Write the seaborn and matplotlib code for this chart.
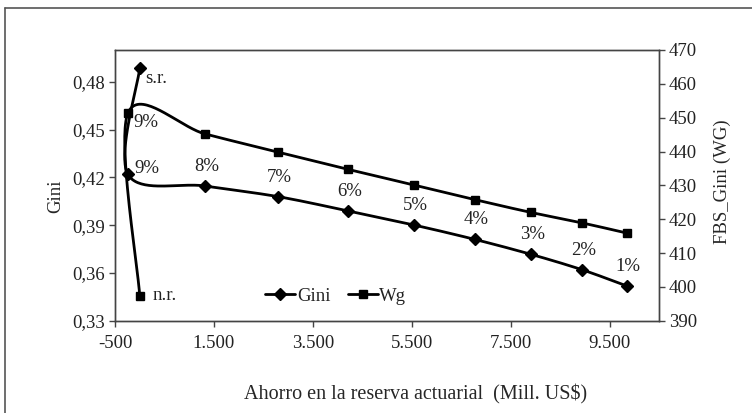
import numpy as np
import pandas as pd
import matplotlib
matplotlib.use("Agg")
import matplotlib.pyplot as plt
from matplotlib.lines import Line2D
import seaborn as sns

# ---- data ----
ahorro = [0, -240, 1320, 2800, 4220, 5545, 6770, 7910, 8945, 9850]
gini = [0.4885, 0.4220, 0.4146, 0.4079, 0.3989, 0.3901, 0.3811, 0.3717, 0.3620, 0.3518]
gini_labels = ["s.r.", "9%", "8%", "7%", "6%", "5%", "4%", "3%", "2%", "1%"]

ahorro_wg = [0, -240, 1320, 2800, 4220, 5545, 6770, 7910, 8945, 9850]
wg = [397.4, 451.3, 445.2, 439.8, 434.7, 430.1, 425.8, 422.0, 418.9, 415.9]
wg_labels = ["n.r.", "9%"]

x_ticks = [-500, 1500, 3500, 5500, 7500, 9500]
x_tick_labels = ["-500", "1.500", "3.500", "5.500", "7.500", "9.500"]
gini_ticks = [0.33, 0.36, 0.39, 0.42, 0.45, 0.48]
gini_tick_labels = ["0,33", "0,36", "0,39", "0,42", "0,45", "0,48"]
wg_ticks = [390, 400, 410, 420, 430, 440, 450, 460, 470]

XLIM = (-500, 10500)
YLIM_L = (0.33, 0.50)
YLIM_R = (390, 470)

sns.set_theme(style="white")
plt.rcParams["font.family"] = ["Liberation Serif", "DejaVu Serif"]
plt.rcParams["text.color"] = "#222222"

W, H = 7.52, 4.13
fig = plt.figure(figsize=(W, H), dpi=100)
ax = fig.add_axes([115 / 752, 1 - 320.7 / 413, 544 / 752, 270.7 / 413])
ax2 = ax.twinx()

PXW, PXH = 544.0, 270.7


def smooth(xs, ys, xlim, ylim, n=40):
    """Excel-style smoothed line (Catmull-Rom Bezier in screen space)."""
    u = (np.asarray(xs, float) - xlim[0]) / (xlim[1] - xlim[0]) * PXW
    v = (np.asarray(ys, float) - ylim[0]) / (ylim[1] - ylim[0]) * PXH
    P = np.column_stack([u, v])
    Pe = np.vstack([P[0], P, P[-1]])
    out = []
    t = np.linspace(0, 1, n)[:, None]
    for i in range(len(P) - 1):
        p0, p3 = Pe[i + 1], Pe[i + 2]
        c1 = p0 + (Pe[i + 2] - Pe[i]) / 6.0
        c2 = p3 - (Pe[i + 3] - Pe[i + 1]) / 6.0
        seg = ((1 - t) ** 3) * p0 + 3 * ((1 - t) ** 2) * t * c1 + 3 * (1 - t) * t ** 2 * c2 + t ** 3 * p3
        out.append(seg if i == 0 else seg[1:])
    S = np.vstack(out)
    sx = S[:, 0] / PXW * (xlim[1] - xlim[0]) + xlim[0]
    sy = S[:, 1] / PXH * (ylim[1] - ylim[0]) + ylim[0]
    return sx, sy


LW = 2.0
sx, sy = smooth(ahorro, gini, XLIM, YLIM_L)
sns.lineplot(x=sx, y=sy, sort=False, estimator=None, ax=ax, color="black", lw=LW)
ax.plot(ahorro, gini, linestyle="none", marker="D", markersize=6.5, color="black", zorder=5)

sx2, sy2 = smooth(ahorro_wg, wg, XLIM, YLIM_R)
sns.lineplot(x=sx2, y=sy2, sort=False, estimator=None, ax=ax2, color="black", lw=LW)
ax2.plot(ahorro_wg, wg, linestyle="none", marker="s", markersize=5.5, color="black", zorder=5)

FS = 13.5
# point labels
ax.annotate(gini_labels[0], (ahorro[0], gini[0]), xytext=(4, -7), textcoords="offset points",
            ha="left", va="center", fontsize=FS)
ax.annotate(gini_labels[1], (ahorro[1], gini[1]), xytext=(14, 4), textcoords="offset points",
            ha="center", va="center", fontsize=FS)
for xv, yv, lab in zip(ahorro[2:], gini[2:], gini_labels[2:]):
    ax.annotate(lab, (xv, yv), xytext=(1, 14), textcoords="offset points",
                ha="center", va="center", fontsize=FS)
ax2.annotate(wg_labels[0], (ahorro_wg[0], wg[0]), xytext=(9, 0), textcoords="offset points",
             ha="left", va="center", fontsize=FS)
ax2.annotate(wg_labels[1], (ahorro_wg[1], wg[1]), xytext=(13, -7), textcoords="offset points",
             ha="center", va="center", fontsize=FS)

ax.set_xlim(*XLIM)
ax.set_ylim(*YLIM_L)
ax2.set_ylim(*YLIM_R)
ax.set_xticks(x_ticks)
ax.set_xticklabels(x_tick_labels)
ax.set_yticks(gini_ticks)
ax.set_yticklabels(gini_tick_labels)
ax2.set_yticks(wg_ticks)
ax2.set_yticklabels([str(t) for t in wg_ticks])

spine_c = "#444444"
for a in (ax, ax2):
    for s in a.spines.values():
        s.set_color(spine_c)
        s.set_linewidth(1.0)
    a.grid(False)
ax.tick_params(axis="both", direction="out", length=4, width=1, color=spine_c,
               labelsize=FS, pad=3, labelcolor="#222222")
ax.tick_params(axis="x", pad=6)
ax2.tick_params(axis="y", direction="out", length=4, width=1, color=spine_c,
                labelsize=FS, pad=3, labelcolor="#222222")
ax.yaxis.set_ticks_position("left")
ax.xaxis.set_ticks_position("bottom")
ax2.yaxis.set_ticks_position("right")

ax.set_ylabel("Gini", fontsize=FS)
ax.yaxis.set_label_coords(-0.094, 0.458)
ax2.set_ylabel("FBS_Gini (WG)", fontsize=FS)
ax2.yaxis.set_label_coords(1.101, 0.512)
ax.set_xlabel("Ahorro en la reserva actuarial  (Mill. US$)", fontsize=14.5)
ax.xaxis.set_label_coords(0.553, -0.235)

handles = [
    Line2D([], [], color="black", lw=LW, marker="D", markersize=6.5),
    Line2D([], [], color="black", lw=LW, marker="s", markersize=5.5),
]
ax.legend(handles, ["Gini", "Wg"], loc="center", bbox_to_anchor=(0.406, 0.091), ncol=2,
          frameon=False, fontsize=FS, handlelength=1.6, handletextpad=0.1,
          columnspacing=0.9, borderpad=0)

# outer frame (top and left only, as in the reference)
border_c = "#555555"
fig.add_artist(Line2D([4.5 / 752, 4.5 / 752], [0, 1 - 8 / 413], transform=fig.transFigure,
                      color=border_c, lw=1.2))
fig.add_artist(Line2D([4.5 / 752, 1], [1 - 8 / 413, 1 - 8 / 413], transform=fig.transFigure,
                      color=border_c, lw=1.2))

fig.savefig("out.png", dpi=100)
